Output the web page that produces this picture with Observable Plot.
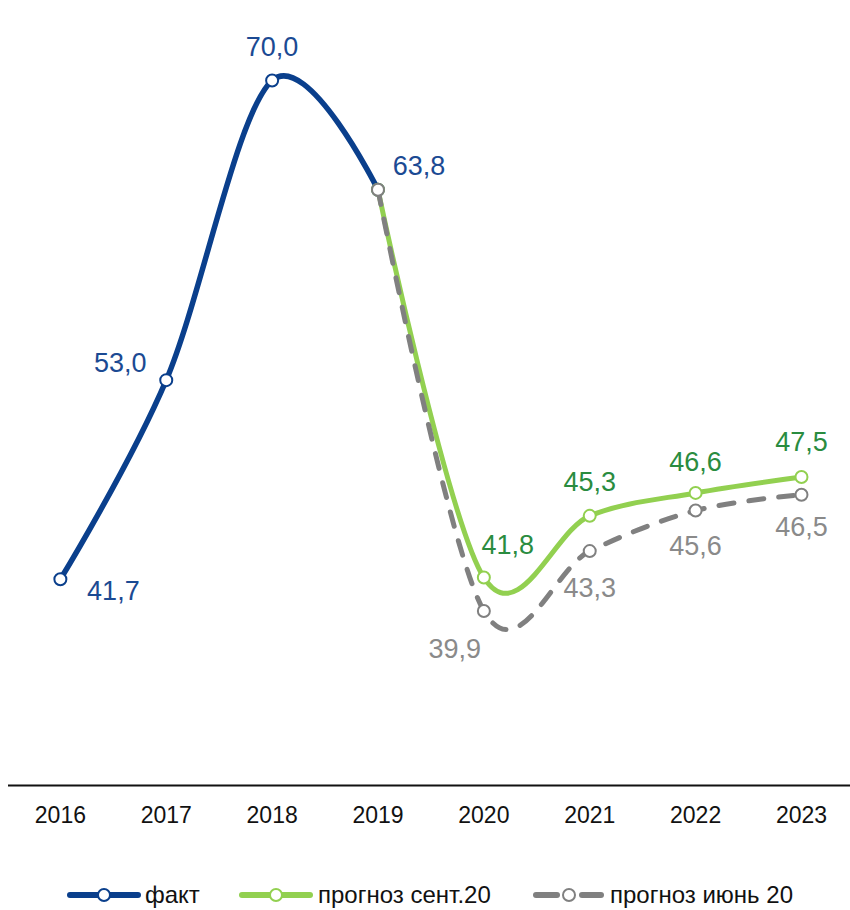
<!DOCTYPE html>
<html>
<head>
<meta charset="utf-8">
<script src="https://cdn.jsdelivr.net/npm/d3@7"></script>
<script src="https://cdn.jsdelivr.net/npm/@observablehq/plot@0.6"></script>
<style>
  html, body { margin: 0; padding: 0; background: #fff; }
  body { width: 850px; font-family: "Liberation Sans", Arial, sans-serif; }
  #legend { position: relative; width: 850px; height: 50px; }
  .item { position: absolute; top: 23px; height: 24px; display: flex; align-items: center; font-size: 24px; color: #111; white-space: nowrap; }
  .item svg { display: block; }
</style>
</head>
<body>
<div id="chart"></div>
<div id="legend"></div>
<script>
const years = [2016, 2017, 2018, 2019, 2020, 2021, 2022, 2023];
const factYears = [2016, 2017, 2018, 2019];
const factValues = [41.7, 53.0, 70.0, 63.8];
const forecastYears = [2019, 2020, 2021, 2022, 2023];
const septValues = [63.8, 41.8, 45.3, 46.6, 47.5];
const juneValues = [63.8, 39.9, 43.3, 45.6, 46.5];
const seriesNames = ["факт", "прогноз сент.20", "прогноз июнь 20"];

const blue = "#0a3f8c", green = "#92d050", gray = "#808080";
const blueText = "#1b4a93", greenText = "#2a8c3f", grayText = "#8a8a8a";

const fact = factYears.map((year, i) => ({year, value: factValues[i]}));
const sept = forecastYears.map((year, i) => ({year, value: septValues[i]}));
const june = forecastYears.map((year, i) => ({year, value: juneValues[i]}));

const fmt = v => v.toFixed(1).replace(".", ",");

function labels(data, color, offsets) {
  return data.map((d, i) => Plot.text([d], {
    x: "year", y: "value", text: d => fmt(d.value),
    dx: offsets[i][0], dy: offsets[i][1],
    fill: color, fontSize: 27
  }));
}

function series(data, color, extra = {}) {
  return [
    Plot.line(data, {x: "year", y: "value", curve: "cardinal", stroke: color, strokeWidth: 5.5, ...extra}),
    Plot.dot(data, {x: "year", y: "value", r: 6, fill: "white", stroke: color, strokeWidth: 2})
  ];
}

const chart = Plot.plot({
  width: 850,
  height: 860,
  marginLeft: 8,
  marginRight: 0,
  marginTop: 80,
  marginBottom: 75,
  style: {fontFamily: '"Liberation Sans", Arial, sans-serif', fontSize: "23px", color: "#111", background: "white"},
  x: {domain: [years[0] - 0.49, years[years.length - 1] + 0.463]},
  y: {domain: [30, 70], axis: null},
  marks: [
    Plot.ruleY([30], {stroke: "#111", strokeWidth: 2}),
    Plot.axisX({ticks: years, tickFormat: d => String(d), tickSize: 0, tickPadding: 21, label: null, fontSize: 23, fill: "#111"}),
    ...series(fact, blue),
    ...series(sept, green, {strokeWidth: 5}),
    ...series(june, gray, {strokeWidth: 5, strokeDasharray: "15,15", strokeLinecap: "round"}),
    ...labels(fact, blueText, [[53, 12], [-46, -17], [0, -33], [41, -23]]),
    ...labels(sept, greenText, [[0, 0], [24, -32], [0, -33], [0, -31], [0, -35]]).slice(1),
    ...labels(june, grayText, [[0, 0], [-29, 38], [0, 37], [0, 36], [0, 33]]).slice(1)
  ]
});
document.getElementById("chart").appendChild(chart);

// Legend
const legend = d3.select("#legend");
const items = [
  {name: seriesNames[0], color: blue, left: 67, textLeft: 145, dashed: false},
  {name: seriesNames[1], color: green, left: 239, textLeft: 318, dashed: false},
  {name: seriesNames[2], color: gray, left: 532, textLeft: 610, dashed: true}
];
items.forEach(it => {
  const sw = legend.append("div").attr("class", "item").style("left", it.left + "px");
  const svg = sw.append("svg").attr("width", 74).attr("height", 24);
  if (it.dashed) {
    svg.append("line").attr("x1", 4).attr("x2", 25).attr("y1", 12).attr("y2", 12)
      .attr("stroke", it.color).attr("stroke-width", 6).attr("stroke-linecap", "round");
    svg.append("line").attr("x1", 50).attr("x2", 69).attr("y1", 12).attr("y2", 12)
      .attr("stroke", it.color).attr("stroke-width", 6).attr("stroke-linecap", "round");
  } else {
    svg.append("line").attr("x1", 3).attr("x2", 71).attr("y1", 12).attr("y2", 12)
      .attr("stroke", it.color).attr("stroke-width", 6).attr("stroke-linecap", "round");
  }
  svg.append("circle").attr("cx", 37).attr("cy", 12).attr("r", 6)
    .attr("fill", "white").attr("stroke", it.color).attr("stroke-width", 2);
  legend.append("div").attr("class", "item").style("left", it.textLeft + "px").text(it.name);
});
</script>
</body>
</html>
